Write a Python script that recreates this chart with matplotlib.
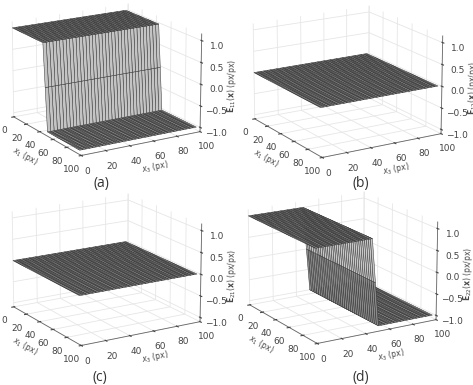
import numpy as np
import matplotlib
matplotlib.use("Agg")
import matplotlib.pyplot as plt
from matplotlib.colors import to_rgba

plt.rcParams['font.family'] = ['DejaVu Sans']

x_ticks = [0, 20, 40, 60, 80, 100]
z_ticks = [-1.0, -0.5, 0.0, 0.5, 1.0]
grid_x = np.linspace(0, 98, 37)
step_at = 49
panels = ['(a)', '(b)', '(c)', '(d)']
labels = [r'$\mathbf{E}_{11}(\mathbf{x})$ (px/px)', r'$\mathbf{E}_{12}(\mathbf{x})$ (px/px)',
          r'$\mathbf{E}_{21}(\mathbf{x})$ (px/px)', r'$\mathbf{E}_{22}(\mathbf{x})$ (px/px)']
levels_a = [1, 0, -1]
levels_b = [0, 0, 0]
levels_c = [0, 0, 0]
levels_d = [1, 0, -1]
step_axis = [0, 0, 0, 1]
all_levels = [levels_a, levels_b, levels_c, levels_d]
plateau_face = ['#8c8c8c'] * 4
upper_wall_face = ['#c4c4c4', '#c4c4c4', '#c4c4c4', '#c8c8c8']
lower_wall_face = ['#c4c4c4', '#c4c4c4', '#c4c4c4', '#8a8a8a']

W, H = 473, 385
rects = [(-28, 206, 262, 200), (213, 204, 262, 200), (-28, 16, 262, 200), (208, 18, 262, 200)]
caption_xy = [(101, 183), (361, 183), (100, 377), (361, 377)]

fig = plt.figure(figsize=(W / 100, H / 100), dpi=100)
X1, X3 = np.meshgrid(grid_x, grid_x, indexing='ij')
for i in range(4):
    l, b, w, h = rects[i]
    ax = fig.add_axes([l / W, b / H, w / W, h / H], projection='3d')
    ax.patch.set_alpha(0)
    lv = all_levels[i]
    s = X1 if step_axis[i] == 0 else X3
    Z = np.where(s < step_at - 1e-9, lv[0], np.where(np.abs(s - step_at) < 1e-9, lv[1], lv[2])).astype(float)
    # one face colour per cell, chosen from the heights of its two sides
    zmax = np.maximum.reduce([Z[:-1, :-1], Z[1:, :-1], Z[:-1, 1:], Z[1:, 1:]])
    zmin = np.minimum.reduce([Z[:-1, :-1], Z[1:, :-1], Z[:-1, 1:], Z[1:, 1:]])
    faces = np.empty(zmax.shape + (4,))
    faces[:] = to_rgba(plateau_face[i])
    faces[(zmax > zmin) & (zmin >= 0)] = to_rgba(upper_wall_face[i])
    faces[(zmax > zmin) & (zmin < 0)] = to_rgba(lower_wall_face[i])
    ax.plot_surface(X1, X3, Z, rstride=1, cstride=1, facecolors=faces, edgecolor='#333333',
                    linewidth=0.35, antialiased=True, shade=False)
    ax.set_box_aspect((4, 4, 2.95), zoom=1.06)
    ax.set_proj_type('persp', focal_length=1.6)
    ax.view_init(elev=17, azim=-31)
    ax.set_xlim(0, 100); ax.set_ylim(0, 100); ax.set_zlim(-1.1, 1.15)
    ax.set_xticks(x_ticks); ax.set_yticks(x_ticks); ax.set_zticks(z_ticks)
    ax.tick_params(labelsize=6.5, pad=-2, colors='#444444', length=2, width=0.5)
    ax.tick_params(axis='z', pad=-2)
    ax.set_xlabel(r'$x_1$ (px)', fontsize=5.5, labelpad=-8, color='#444444')
    ax.set_ylabel(r'$x_3$ (px)', fontsize=5.5, labelpad=-8, color='#444444')
    ax.set_zlabel(labels[i], fontsize=5.5, labelpad=-9, color='#444444')
    for a in (ax.xaxis, ax.yaxis, ax.zaxis):
        a.set_pane_color((1, 1, 1, 1))
        a._axinfo['grid'].update(color='#e6e6e6', linewidth=0.6)
        a.line.set_color('#666666'); a.line.set_linewidth(0.6)
    fig.text(caption_xy[i][0] / W, 1 - caption_xy[i][1] / H, panels[i], fontsize=10, family='Open Sans',
             color='#333333', ha='center', va='center')
fig.savefig('out.png', dpi=100)
